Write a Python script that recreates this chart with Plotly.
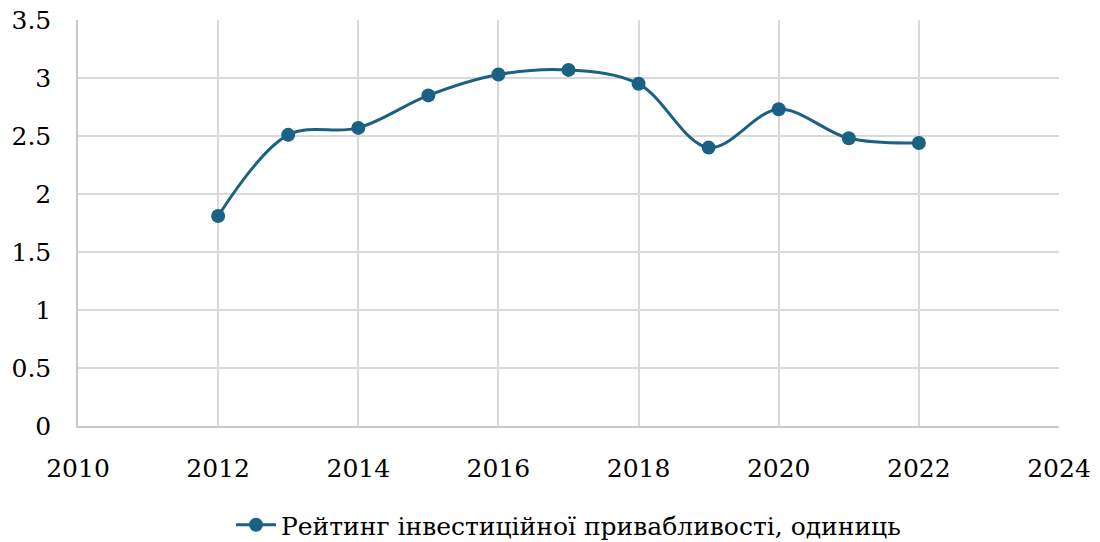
import plotly.graph_objects as go

years = [2012, 2013, 2014, 2015, 2016, 2017, 2018, 2019, 2020, 2021, 2022]
rating = [1.81, 2.51, 2.57, 2.85, 3.03, 3.07, 2.95, 2.40, 2.73, 2.48, 2.44]
series_name = "Рейтинг інвестиційної привабливості, одиниць"

line_colour = "#1a6183"
grid_colour = "#d9d9d9"
# only serif face that renders here
serif = "DejaVu Serif"
fsize = 25

fig = go.Figure()
fig.add_scatter(x=years, y=rating,
                name=series_name,
                mode='lines+markers',
                line=dict(color=line_colour, width=3, shape='spline', smoothing=1),
                marker=dict(color=line_colour, size=14))

# page body has an 8px margin, so the margins are shifted by that
fig.update_layout(dict(
    width=1100, height=542,
    margin=dict(l=70, r=49, t=12, b=124, autoexpand=False),
    plot_bgcolor='#ffffff',
    paper_bgcolor='#ffffff',
    font=dict(family=serif, size=fsize, color='#000000'),
    showlegend=True,
    legend=dict(orientation='h', x=0.5, xanchor='center',
                y=-0.244, yanchor='middle',
                font=dict(family=serif, size=fsize),
                itemwidth=40)))

fig.update_xaxes(range=[2010, 2024], dtick=2, tick0=2010,
                 tickfont=dict(family=serif, size=fsize),
                 showgrid=True, gridcolor=grid_colour, gridwidth=1.5,
                 showline=True, linecolor='#c8c8c8', linewidth=1.5,
                 zeroline=False, ticks='', ticklabelstandoff=19,
                 automargin=False, ticklabeloverflow='allow')
fig.update_yaxes(range=[0, 3.5], dtick=0.5,
                 tickfont=dict(family=serif, size=fsize),
                 showgrid=True, gridcolor=grid_colour, gridwidth=1.5,
                 showline=True, linecolor='#c8c8c8', linewidth=1.5,
                 zeroline=False, ticks='', ticklabelstandoff=20,
                 automargin=False, ticklabeloverflow='allow')

fig.write_html("out.html")
